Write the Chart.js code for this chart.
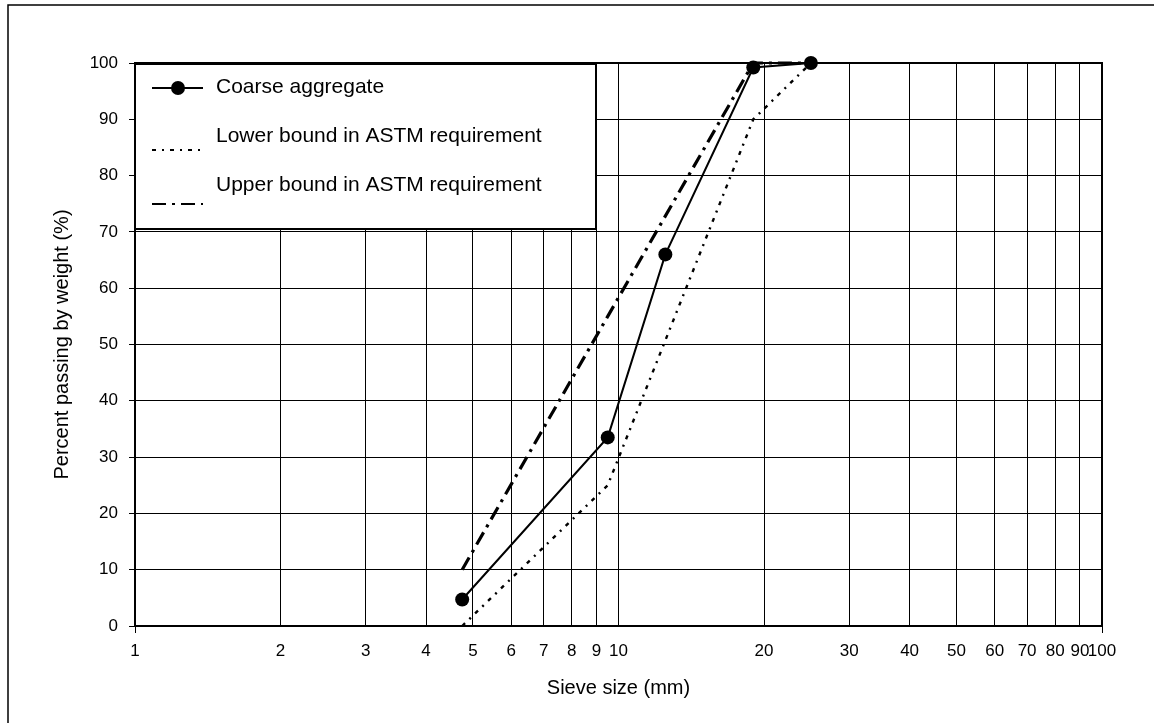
<!DOCTYPE html>
<html lang="en">
<head>
<meta charset="UTF-8">
<title>Sieve analysis - coarse aggregate</title>
<script src="https://cdn.jsdelivr.net/npm/chart.js"></script>
<style>
  body { margin: 0; background: #fff; }
  #wrap { width: 1154px; height: 723px; position: relative; }
</style>
</head>
<body>
<div id="wrap"><canvas id="sieveChart"></canvas></div>
<script>
// sieve size (mm) -> percent passing
const coarseSizes = [4.75, 9.5, 12.5, 19, 25];
const coarsePassing = [4.7, 33.5, 66, 99.2, 100];
const lowerSizes = [4.75, 9.5, 19, 25];
const lowerPassing = [0, 25, 90, 100];
const upperSizes = [4.75, 9.5, 19, 25];
const upperPassing = [10, 55, 100, 100];
const seriesNames = ['Coarse aggregate', 'Lower bound in ASTM requirement', 'Upper bound in ASTM requirement'];
const xTickValues = [1, 2, 3, 4, 5, 6, 7, 8, 9, 10, 20, 30, 40, 50, 60, 70, 80, 90, 100];
const yTickValues = [0, 10, 20, 30, 40, 50, 60, 70, 80, 90, 100];

const FONT = '"Liberation Sans", Arial, sans-serif';

function toPoints(xs, ys) {
    return xs.map((x, i) => ({x: x, y: ys[i]}));
}

// outer frame + plot border on top/right
const framePlugin = {
    id: 'frame',
    beforeDraw(chart) {
        const ctx = chart.ctx;
        ctx.save();
        ctx.fillStyle = '#fff';
        ctx.fillRect(0, 0, chart.width, chart.height);
        ctx.strokeStyle = '#000';
        ctx.lineWidth = 1.5;
        ctx.strokeRect(8, 5, chart.width + 20, chart.height + 20);
        ctx.restore();
    },
    afterDatasetsDraw(chart) {
        const a = chart.chartArea, ctx = chart.ctx;
        ctx.save();
        ctx.strokeStyle = '#000';
        ctx.lineWidth = 2;
        ctx.beginPath();
        ctx.moveTo(a.left, a.top);
        ctx.lineTo(a.right, a.top);
        ctx.lineTo(a.right, a.bottom);
        ctx.stroke();
        ctx.restore();
    }
};

// legend box sitting in the top-left of the plot
const boxLegend = {
    id: 'boxLegend',
    afterDatasetsDraw(chart) {
        const ctx = chart.ctx, a = chart.chartArea;
        const x0 = a.left, y0 = a.top + 1;
        ctx.save();
        ctx.fillStyle = '#fff';
        ctx.fillRect(x0, y0, 461, 165);
        ctx.lineWidth = 2;
        ctx.strokeStyle = '#000';
        ctx.strokeRect(x0, y0, 461, 165);
        ctx.font = '21px ' + FONT;
        ctx.textBaseline = 'middle';
        const textY = [23, 72, 121];
        const lineY = [24, 86, 140];
        chart.data.datasets.forEach((ds, i) => {
            ctx.fillStyle = '#000';
            ctx.fillText(ds.label, x0 + 81, y0 + textY[i]);
            ctx.beginPath();
            ctx.setLineDash(ds.borderDash || []);
            ctx.lineWidth = Math.min(ds.borderWidth, 2);
            ctx.moveTo(x0 + 17, y0 + lineY[i]);
            ctx.lineTo(x0 + 68, y0 + lineY[i]);
            ctx.stroke();
            ctx.setLineDash([]);
            if (ds.pointRadius > 0) {
                ctx.beginPath();
                ctx.arc(x0 + 43, y0 + lineY[i], ds.pointRadius, 0, Math.PI * 2);
                ctx.fill();
            }
        });
        ctx.restore();
    }
};

const ctx = document.getElementById('sieveChart').getContext('2d');
const sieveChart = new Chart(ctx, {
    type: 'line',
    data: {
        datasets: [{
            label: seriesNames[0],
            data: toPoints(coarseSizes, coarsePassing),
            borderColor: '#000',
            backgroundColor: '#000',
            borderWidth: 2,
            pointRadius: 7,
            pointBackgroundColor: '#000',
            pointBorderWidth: 0,
            clip: false
        }, {
            label: seriesNames[1],
            data: toPoints(lowerSizes, lowerPassing),
            borderColor: '#000',
            borderWidth: 2.4,
            borderDash: [4, 6, 2, 6],
            pointRadius: 0,
            clip: false
        }, {
            label: seriesNames[2],
            data: toPoints(upperSizes, upperPassing),
            borderColor: '#000',
            borderWidth: 3.2,
            borderDash: [14, 6, 3, 6],
            pointRadius: 0,
            clip: false
        }]
    },
    options: {
        responsive: true,
        maintainAspectRatio: false,
        animation: false,
        layout: {padding: {left: 50, top: 63, right: 52, bottom: 23}},
        plugins: {
            legend: {display: false},
            tooltip: {enabled: false}
        },
        scales: {
            x: {
                type: 'logarithmic',
                min: 1,
                max: 100,
                afterBuildTicks: (scale) => { scale.ticks = xTickValues.map(v => ({value: v})); },
                afterFit: (scale) => { scale.height = 74; },
                ticks: {
                    autoSkip: false,
                    maxRotation: 0,
                    minRotation: 0,
                    padding: 8,
                    color: '#000',
                    font: {family: FONT, size: 17},
                    callback: (v) => String(v)
                },
                grid: {
                    color: '#000',
                    lineWidth: 1,
                    tickLength: 7,
                    tickColor: (c) => (c.tick && (c.tick.value === 1 || c.tick.value === 100)) ? '#000' : 'rgba(0,0,0,0)'
                },
                border: {color: '#000', width: 2},
                title: {
                    display: true,
                    text: 'Sieve size (mm)',
                    color: '#000',
                    font: {family: FONT, size: 20},
                    padding: {top: 0, bottom: 0}
                }
            },
            y: {
                min: 0,
                max: 100,
                afterBuildTicks: (scale) => { scale.ticks = yTickValues.map(v => ({value: v})); },
                afterFit: (scale) => { scale.width = 85; },
                ticks: {
                    padding: 11,
                    color: '#000',
                    font: {family: FONT, size: 17}
                },
                grid: {color: '#000', lineWidth: 1, tickLength: 6},
                border: {color: '#000', width: 2},
                title: {
                    display: true,
                    text: 'Percent passing by weight (%)',
                    color: '#000',
                    font: {family: FONT, size: 20},
                    padding: {top: 0, bottom: 0}
                }
            }
        }
    },
    plugins: [framePlugin, boxLegend]
});
</script>
</body>
</html>
